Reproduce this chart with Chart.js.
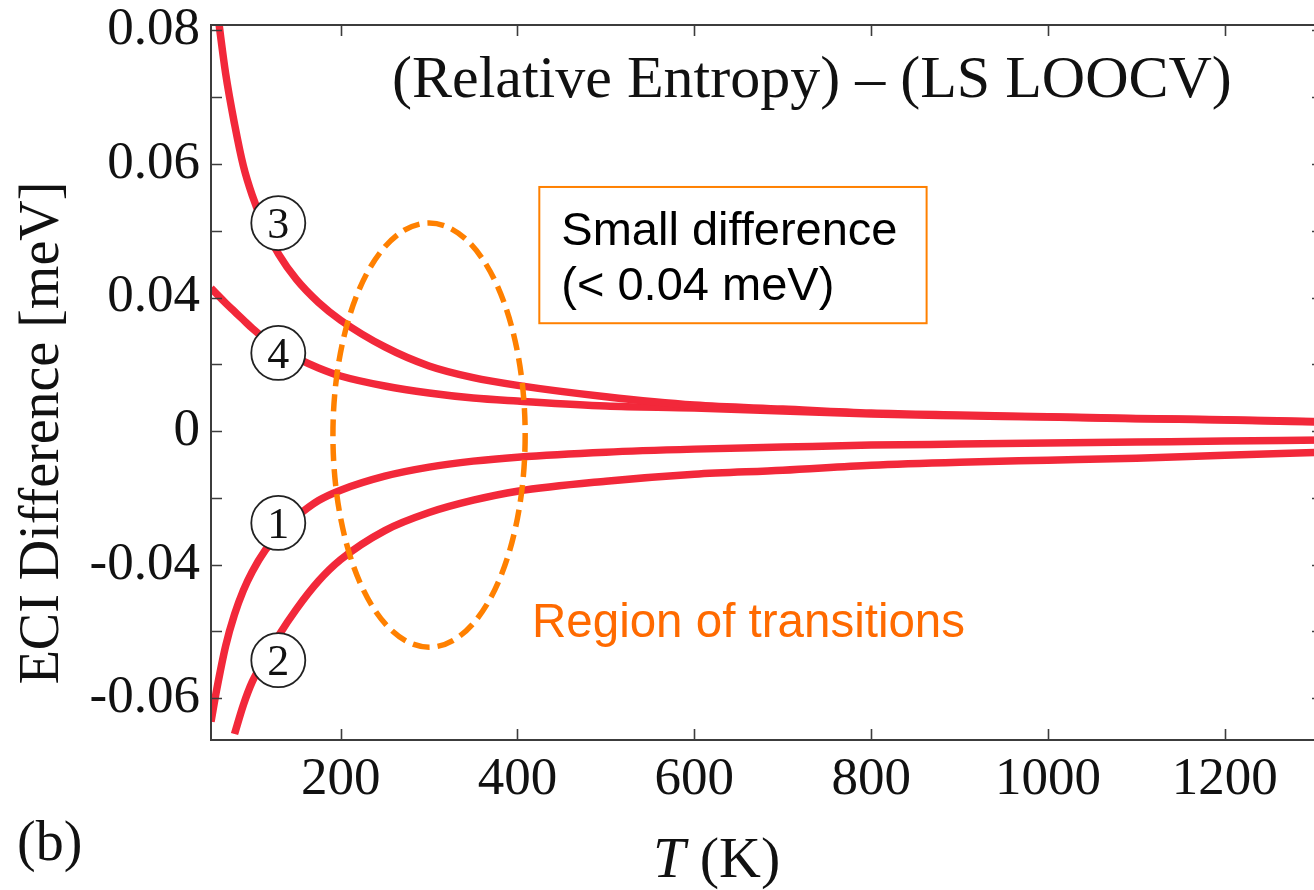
<!DOCTYPE html>
<html>
<head>
<meta charset="utf-8">
<script src="https://cdn.jsdelivr.net/npm/chart.js@4.4.1/dist/chart.umd.min.js"></script>
<style>
  html, body { margin: 0; padding: 0; background: #fff; overflow: hidden; }
  #wrap { width: 1330px; height: 890px; }
</style>
</head>
<body>
<div id="wrap"><canvas id="eciChart" width="1330" height="890"></canvas></div>
<script>
// temperatures (K) shared by all four curves
const temps = [53.4, 60, 70, 80, 90, 100, 115, 130, 150, 175, 200, 250, 300, 350, 400, 500, 600, 700, 800, 900, 1000, 1100, 1200, 1311];

// ECI difference, in axis units (labels below are what the picture prints)
const curve1 = [-0.0870, -0.0772, -0.0643, -0.0549, -0.0477, -0.0421, -0.0356, -0.0307, -0.0257, -0.0208, -0.0177, -0.0135, -0.0108, -0.0090, -0.0078, -0.0063, -0.0054, -0.0048, -0.0042, -0.0039, -0.0036, -0.0033, -0.0030, -0.0027];
const curve2 = [null, null, null, -0.0907, -0.0820, -0.0751, -0.0680, -0.0612, -0.0533, -0.0449, -0.0385, -0.0298, -0.0244, -0.0207, -0.0180, -0.0150, -0.0129, -0.0117, -0.0102, -0.0093, -0.0087, -0.0081, -0.0072, -0.0063];
const curve3 = [null, 0.127, 0.107, 0.092, 0.0794, 0.0706, 0.0605, 0.0529, 0.0454, 0.0385, 0.0332, 0.0252, 0.0195, 0.0160, 0.0137, 0.0103, 0.0078, 0.0066, 0.0054, 0.0048, 0.0043, 0.0038, 0.0034, 0.0028];
const curve4 = [0.0428, 0.0410, 0.0383, 0.0358, 0.0333, 0.0308, 0.0275, 0.0248, 0.0219, 0.0189, 0.0165, 0.0135, 0.0114, 0.0099, 0.0090, 0.0075, 0.0069, 0.0060, 0.0051, 0.0046, 0.0042, 0.0037, 0.0033, 0.0027];

const xTicks = [200, 400, 600, 800, 1000, 1200];
const yTickValues = [-0.08, -0.04, 0, 0.04, 0.08, 0.12];
const yTickLabels = ['-0.06', '-0.04', '0', '0.04', '0.06', '0.08'];
const yMinorTicks = [-0.06, -0.02, 0.02, 0.06, 0.10];

const SERIF = '"Liberation Serif", "Times New Roman", serif';
const SANS = '"Liberation Sans", Arial, sans-serif';
const RED = '#f2283a';

// annotation placement in data units
const ellipse = { t: 300, v: -0.0012, dt: 108.7, dv: 0.0635 };
const markers = [
  { text: '1', t: 129.5, v: -0.0275 },
  { text: '2', t: 129.5, v: -0.0686 },
  { text: '3', t: 129.5, v: 0.0623 },
  { text: '4', t: 129.5, v: 0.0234 }
];
const noteBox = { t1: 424.7, t2: 862.7, v1: 0.0731, v2: 0.0323 };

const toPoints = arr => temps.map((t, i) => ({ x: t, y: arr[i] }));

const lineStyle = {
  borderColor: RED,
  backgroundColor: RED,
  borderWidth: 7.5,
  pointRadius: 0,
  fill: false,
  cubicInterpolationMode: 'monotone',
  clip: 0
};

const decor = {
  id: 'decor',
  afterDatasetsDraw(chart) {
    const { ctx, chartArea: a, scales: { x, y } } = chart;
    ctx.save();

    // dashed ellipse
    const cx = x.getPixelForValue(ellipse.t), cy = y.getPixelForValue(ellipse.v);
    const rx = x.getPixelForValue(ellipse.t + ellipse.dt) - cx;
    const ry = cy - y.getPixelForValue(ellipse.v + ellipse.dv);
    ctx.setLineDash([17, 8]);
    ctx.lineWidth = 5.5;
    ctx.strokeStyle = '#ff8000';
    ctx.beginPath();
    ctx.ellipse(cx, cy, rx, ry, 0, 0, Math.PI * 2);
    ctx.stroke();
    ctx.setLineDash([]);

    // circled curve numbers
    markers.forEach(m => {
      const px = x.getPixelForValue(m.t), py = y.getPixelForValue(m.v);
      ctx.beginPath();
      ctx.arc(px, py, 27, 0, Math.PI * 2);
      ctx.fillStyle = '#fff';
      ctx.fill();
      ctx.lineWidth = 1.8;
      ctx.strokeStyle = '#222';
      ctx.stroke();
      ctx.fillStyle = '#111';
      ctx.font = '44px ' + SERIF;
      ctx.textAlign = 'center';
      ctx.textBaseline = 'alphabetic';
      ctx.fillText(m.text, px, py + 15);
    });

    // note box
    const bx1 = x.getPixelForValue(noteBox.t1), bx2 = x.getPixelForValue(noteBox.t2);
    const by1 = y.getPixelForValue(noteBox.v1), by2 = y.getPixelForValue(noteBox.v2);
    ctx.fillStyle = '#fff';
    ctx.fillRect(bx1, by1, bx2 - bx1, by2 - by1);
    ctx.lineWidth = 2;
    ctx.strokeStyle = '#ff8000';
    ctx.strokeRect(bx1, by1, bx2 - bx1, by2 - by1);
    ctx.fillStyle = '#000';
    ctx.font = '47px ' + SANS;
    ctx.textAlign = 'left';
    ctx.fillText('Small difference', bx1 + 22, by1 + 58);
    ctx.fillText('(< 0.04 meV)', bx1 + 22, by1 + 113);

    // region label
    ctx.fillStyle = '#ff6a00';
    ctx.font = '47.5px ' + SANS;
    ctx.fillText('Region of transitions', 532, 637);

    // panel title inside the plot
    ctx.fillStyle = '#111';
    ctx.font = '60px ' + SERIF;
    ctx.fillText('(Relative Entropy) \u2013 (LS LOOCV)', 392, 97);

    // frame and inward ticks on all four sides
    ctx.strokeStyle = '#3c3c3c';
    ctx.lineWidth = 2;
    ctx.strokeRect(a.left, a.top, a.right - a.left, a.bottom - a.top);
    ctx.lineWidth = 1.6;
    ctx.beginPath();
    xTicks.forEach(v => {
      const px = Math.round(x.getPixelForValue(v)) + 0.5;
      ctx.moveTo(px, a.bottom); ctx.lineTo(px, a.bottom - 11);
      ctx.moveTo(px, a.top); ctx.lineTo(px, a.top + 11);
    });
    yTickValues.concat(yMinorTicks).forEach(v => {
      const py = Math.round(y.getPixelForValue(v)) + 0.5;
      ctx.moveTo(a.left, py); ctx.lineTo(a.left + 11, py);
      ctx.moveTo(a.right, py); ctx.lineTo(a.right - 11, py);
    });
    ctx.stroke();
    ctx.restore();
  },
  afterDraw(chart) {
    const { ctx } = chart;
    ctx.save();
    ctx.fillStyle = '#111';
    ctx.textBaseline = 'alphabetic';

    // y axis title
    ctx.save();
    ctx.translate(58, 433);
    ctx.rotate(-Math.PI / 2);
    ctx.textAlign = 'center';
    ctx.font = '56px ' + SERIF;
    ctx.fillText('ECI Difference [meV]', 0, 0);
    ctx.restore();

    // x axis title: italic T then (K)
    ctx.textAlign = 'left';
    ctx.font = 'italic 58px ' + SERIF;
    ctx.fillText('T', 653, 877);
    const tw = ctx.measureText('T').width;
    ctx.font = '58px ' + SERIF;
    ctx.fillText(' (K)', 653 + tw, 877);

    // panel letter
    ctx.font = '56px ' + SERIF;
    ctx.fillText('(b)', 17, 860);
    ctx.restore();
  }
};

const ctx = document.getElementById('eciChart').getContext('2d');
const eciChart = new Chart(ctx, {
  type: 'line',
  data: {
    datasets: [
      Object.assign({ label: '1', data: toPoints(curve1) }, lineStyle),
      Object.assign({ label: '2', data: toPoints(curve2) }, lineStyle),
      Object.assign({ label: '3', data: toPoints(curve3) }, lineStyle),
      Object.assign({ label: '4', data: toPoints(curve4) }, lineStyle)
    ]
  },
  options: {
    responsive: false,
    animation: false,
    layout: { padding: { top: 25, right: 7, left: 0, bottom: 0 } },
    plugins: {
      legend: { display: false },
      tooltip: { enabled: false },
      colors: { enabled: false }
    },
    scales: {
      x: {
        type: 'linear',
        min: 53.4,
        max: 1311,
        grid: { display: false, drawTicks: false },
        border: { display: false },
        afterBuildTicks: s => { s.ticks = xTicks.map(v => ({ value: v })); },
        afterFit: s => { s.height = 150; s.paddingLeft = 0; s.paddingRight = 0; },
        ticks: {
          font: { family: SERIF, size: 53 },
          color: '#111',
          padding: 8,
          maxRotation: 0,
          autoSkip: false,
          callback: v => String(v)
        }
      },
      y: {
        type: 'linear',
        min: -0.0925,
        max: 0.1216,
        grid: { display: false, drawTicks: false },
        border: { display: false },
        afterBuildTicks: s => { s.ticks = yTickValues.map(v => ({ value: v })); },
        afterFit: s => { s.width = 211; s.paddingTop = 0; s.paddingBottom = 0; },
        ticks: {
          font: { family: SERIF, size: 53 },
          color: '#111',
          padding: 11,
          autoSkip: false,
          callback: v => {
            const i = yTickValues.findIndex(t => Math.abs(t - v) < 1e-9);
            return i >= 0 ? yTickLabels[i] : '';
          }
        }
      }
    }
  },
  plugins: [decor]
});
</script>
</body>
</html>
